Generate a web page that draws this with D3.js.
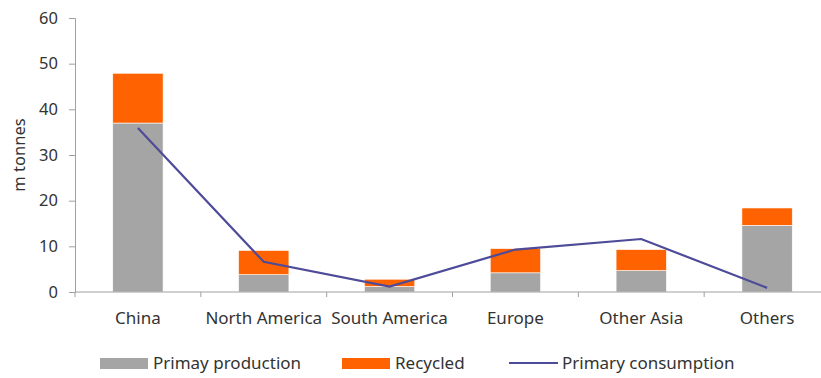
<!DOCTYPE html>
<html>
<head>
<meta charset="utf-8">
<script src="https://cdn.jsdelivr.net/npm/d3@7"></script>
<style>
  body { margin: 0; background: #fff; }
  svg text { font-family: "Noto Sans", "Open Sans", sans-serif; fill: #333; }
</style>
</head>
<body>
<svg id="chart" width="821" height="378"></svg>
<script>
// Regional volumes, million tonnes
const categories = ["China", "North America", "South America", "Europe", "Other Asia", "Others"];
const primaryProduction = [37.0, 3.8, 1.2, 4.2, 4.7, 14.6];
const recycled = [10.9, 5.3, 1.6, 5.3, 4.6, 3.8];
const primaryConsumption = [35.9, 6.6, 1.2, 9.3, 11.6, 0.9];
const yTicks = [0, 10, 20, 30, 40, 50, 60];
const seriesNames = ["Primay production", "Recycled", "Primary consumption"];

const colors = { prod: "#a5a5a5", rec: "#ff6200", line: "#4e4b98" };

const svg = d3.select("#chart");
const margin = { left: 75, right: -9, top: 18, bottom: 86 };
const width = 821 - margin.left - margin.right;
const height = 378 - margin.top - margin.bottom;
const g = svg.append("g").attr("transform", `translate(${margin.left},${margin.top})`);

const x = d3.scaleBand().domain(categories).range([0, width]).paddingInner(0.6).paddingOuter(0.3);
const xBand = d3.scaleBand().domain(categories).range([0, width]);
const y = d3.scaleLinear().domain([0, 60]).range([height, 0]);

// Y axis
const yAxis = g.append("g").call(d3.axisLeft(y).tickValues(yTicks).tickSize(6).tickPadding(11));
yAxis.select(".domain").attr("stroke", "#a0a0a0");
yAxis.selectAll(".tick line").attr("stroke", "#a0a0a0");
yAxis.selectAll("text").style("font-size", "16.5px").attr("fill", "#333");

svg.append("text")
  .attr("transform", `translate(25,${margin.top + height / 2 + 0}) rotate(-90)`)
  .attr("text-anchor", "middle")
  .style("font-size", "16.5px")
  .text("m tonnes");

// Stacked bars
const stackData = categories.map((c, i) => ({ cat: c, prod: primaryProduction[i], rec: recycled[i] }));
const stacked = d3.stack().keys(["prod", "rec"])(stackData);
g.selectAll("g.layer").data(stacked).join("g")
  .attr("fill", d => colors[d.key])
  .selectAll("rect").data(d => d).join("rect")
  .attr("x", d => x(d.data.cat))
  .attr("width", x.bandwidth())
  .attr("y", d => y(d[1]))
  .attr("height", d => y(d[0]) - y(d[1]))
  .attr("stroke", "#fff")
  .attr("stroke-width", 0.6);

// X axis with ticks between categories
const xAxisG = g.append("g").attr("transform", `translate(0,${height})`);
xAxisG.append("line").attr("x1", 0).attr("x2", width).attr("y1", 0).attr("y2", 0).attr("stroke", "#a0a0a0");
xAxisG.selectAll("line.tk").data(categories).join("line").attr("class", "tk")
  .attr("x1", d => xBand(d)).attr("x2", d => xBand(d)).attr("y1", 0).attr("y2", 5).attr("stroke", "#a0a0a0");
xAxisG.selectAll("text").data(categories).join("text")
  .attr("x", d => xBand(d) + xBand.bandwidth() / 2)
  .attr("y", 32)
  .attr("text-anchor", "middle")
  .style("font-size", "17px")
  .text(d => d);

// Consumption line
const line = d3.line().x((d, i) => xBand(categories[i]) + xBand.bandwidth() / 2).y(d => y(d));
g.append("path").datum(primaryConsumption)
  .attr("d", line).attr("fill", "none")
  .attr("stroke", colors.line).attr("stroke-width", 2.2);

// Legend
const legend = svg.append("g").attr("transform", "translate(0,363)");
const items = [
  { name: seriesNames[0], type: "rect", color: colors.prod, x: 100 },
  { name: seriesNames[1], type: "rect", color: colors.rec, x: 342 },
  { name: seriesNames[2], type: "line", color: colors.line, x: 509 }
];
items.forEach(it => {
  if (it.type === "rect") {
    legend.append("rect").attr("x", it.x).attr("y", -5).attr("width", 48).attr("height", 11).attr("fill", it.color);
  } else {
    legend.append("line").attr("x1", it.x).attr("x2", it.x + 49).attr("y1", 0).attr("y2", 0)
      .attr("stroke", it.color).attr("stroke-width", 2.2);
  }
  legend.append("text").attr("x", it.x + 53).attr("y", 6).style("font-size", "17px").text(it.name);
});
</script>
</body>
</html>
